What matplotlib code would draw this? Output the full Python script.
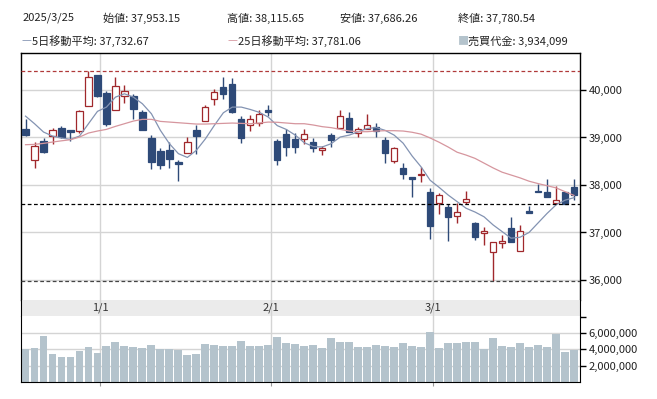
import matplotlib
matplotlib.use("Agg")
import matplotlib.pyplot as plt
import numpy as np

plt.rcParams['font.family'] = ['Noto Sans CJK JP', 'DejaVu Sans']

# trading days shown
dates = ['2024-12-18', '2024-12-19', '2024-12-20', '2024-12-23', '2024-12-24', '2024-12-25',
         '2024-12-26', '2024-12-27', '2024-12-30',
         '2025-01-06', '2025-01-07', '2025-01-08', '2025-01-09', '2025-01-10', '2025-01-14',
         '2025-01-15', '2025-01-16', '2025-01-17', '2025-01-20', '2025-01-21', '2025-01-22',
         '2025-01-23', '2025-01-24', '2025-01-27', '2025-01-28', '2025-01-29', '2025-01-30',
         '2025-01-31',
         '2025-02-03', '2025-02-04', '2025-02-05', '2025-02-06', '2025-02-07', '2025-02-10',
         '2025-02-12', '2025-02-13', '2025-02-14', '2025-02-17', '2025-02-18', '2025-02-19',
         '2025-02-20', '2025-02-21', '2025-02-25', '2025-02-26', '2025-02-27', '2025-02-28',
         '2025-03-03', '2025-03-04', '2025-03-05', '2025-03-06', '2025-03-07', '2025-03-10',
         '2025-03-11', '2025-03-12', '2025-03-13', '2025-03-14', '2025-03-17', '2025-03-18',
         '2025-03-19', '2025-03-21', '2025-03-24', '2025-03-25']

opens = [39185, 38518, 38932, 39031, 39199, 39150, 39129, 39655, 40308,
         39929, 39571, 39880, 39873, 39536, 38998, 38715, 38729, 38476, 38673, 39150,
         39339, 39803, 40062, 40126, 39382, 39255, 39304, 39571,
         38925, 39066, 38960, 38961, 38905, 38729, 39045, 39207, 39403, 39087, 39171,
         39221, 38947, 38505, 38350, 38160, 38217, 37845,
         37613, 37529, 37347, 37634, 37206, 36996, 36582, 36771, 37087, 36610, 37452,
         37873, 37845, 37613, 37845, 37953.15]
highs = [39396, 38904, 38988, 39199, 39248, 39164, 39571, 40398, 40322,
         39971, 40273, 40098, 39908, 39585, 39045, 38778, 38904, 38518, 39016, 39255,
         39690, 40013, 40273, 40252, 39452, 39466, 39585, 39676,
         38974, 39185, 39094, 39172, 38996, 38821, 39101, 39579, 39530, 39228, 39494,
         39298, 39003, 38806, 38470, 38170, 38371, 37929,
         37838, 37599, 37613, 37873, 37227, 37122, 36792, 36947, 37319, 37157, 37557,
         38013, 38126, 37985, 37859, 38115.65]
lows = [39040, 38357, 38680, 38855, 38988, 38932, 39101, 39655, 39859,
        39234, 39571, 39719, 39396, 39160, 38328, 38328, 38357, 38076, 38673, 38659,
        39339, 39676, 39817, 39520, 38883, 39143, 39234, 39452,
        38413, 38602, 38679, 38856, 38701, 38631, 38806, 39207, 39108, 39017, 39171,
        39003, 38470, 38470, 38133, 37753, 38069, 36855,
        37382, 36827, 37192, 37592, 36841, 36736, 35987, 36680, 36792, 36610, 37403,
        37845, 37740, 37613, 37608, 37686.26]
closes = [39059, 38820, 38687, 39150, 39010, 39122, 39550, 40266, 39873,
          39283, 40077, 39971, 39592, 39164, 38483, 38427, 38553, 38448, 38897, 39024,
          39634, 39950, 39908, 39536, 38996, 39396, 39501, 39543,
          38518, 38792, 38806, 39066, 38771, 38785, 38947, 39452, 39122, 39171, 39256,
          39143, 38666, 38771, 38224, 38133, 38238, 37143,
          37789, 37333, 37424, 37698, 36897, 37038, 36792, 36820, 36792, 37038, 37403,
          37845, 37740, 37677, 37608, 37780.54]

ma5 = [39450, 39290, 39115, 39030, 38990, 38960, 39030, 39290, 39550,
       39640, 39850, 39920, 39850, 39710, 39500, 39150, 38870, 38660, 38580, 38730,
       38970, 39255, 39520, 39640, 39640, 39590, 39530, 39430,
       39250, 39170, 39050, 38890, 38810, 38800, 38870, 39010, 39050, 39120, 39190,
       39210, 39150, 39050, 38880, 38610, 38380, 38100,
       37950, 37790, 37650, 37510, 37430, 37330, 37160, 37020, 36880, 36900, 37000,
       37200, 37400, 37580, 37680, 37732.67]
ma25 = [38848, 38855, 38876, 38904, 38930, 38953, 39009, 39094, 39136,
        39171, 39234, 39290, 39346, 39382, 39382, 39339, 39325, 39311, 39297, 39283,
        39283, 39290, 39297, 39304, 39297, 39290, 39304, 39325,
        39320, 39305, 39290, 39290, 39263, 39228, 39207, 39171, 39136, 39122, 39122,
        39136, 39143, 39143, 39136, 39110, 39070, 38990,
        38900, 38800, 38690, 38630, 38560, 38460, 38360, 38270, 38210, 38150, 38080,
        38030, 37985, 37940, 37860, 37781.06]

volume = [4.00, 4.12, 5.59, 3.39, 3.02, 3.02, 3.76, 4.24, 3.51,
          4.37, 4.86, 4.37, 4.24, 4.12, 4.49, 4.00, 4.00, 3.88, 3.27, 3.39,
          4.61, 4.49, 4.37, 4.37, 4.98, 4.37, 4.37, 4.49,
          5.47, 4.73, 4.61, 4.37, 4.49, 4.12, 5.35, 4.86, 4.86, 4.24, 4.24,
          4.49, 4.37, 4.24, 4.73, 4.37, 4.24, 6.08,
          4.12, 4.73, 4.73, 4.86, 4.86, 4.00, 5.35, 4.37, 4.24, 4.73, 4.24,
          4.49, 4.24, 5.84, 3.63, 3.934099]
volume = [v * 1e6 for v in volume]

month_starts = ['2025-01-01', '2025-02-01', '2025-03-01']
month_labels = ['1/1', '2/1', '3/1']

# ---------------------------------------------------------------
W, H = 657, 399
fig = plt.figure(figsize=(W / 100, H / 100), dpi=100)


def rect(x0, y0, x1, y1):
    return [x0 / W, 1 - y1 / H, (x1 - x0) / W, (y1 - y0) / H]


x = np.arange(len(dates))
d_num = np.array(dates, dtype='datetime64[D]').astype(float)
m_num = np.array(month_starts, dtype='datetime64[D]').astype(float)
month_pos = np.interp(m_num, d_num, x)

up_col = '#a0282c'
down_col = '#2e4a78'
grid_col = '#d4d4d4'
txt_col = '#222222'
ma5_col = '#8393b2'
ma25_col = '#d6969e'
xlim = (-0.56, 61.67)

ax = fig.add_axes(rect(20.5, 53, 580, 299.5))
band = fig.add_axes(rect(20.5, 299.5, 580, 315.7))
axv = fig.add_axes(rect(20.5, 315.7, 580, 382))

# price panel
for yv in [36000, 37000, 38000, 39000, 40000]:
    ax.axhline(yv, color=grid_col, lw=1, zorder=0)
for mp in month_pos:
    ax.axvline(mp, color=grid_col, lw=1, zorder=0)

for i in x:
    o, h, l, c = opens[i], highs[i], lows[i], closes[i]
    col = up_col if c >= o else down_col
    ax.vlines(i, l, h, color=col, lw=1, zorder=2)
    body = max(abs(c - o), 15)
    ax.bar(i, body, bottom=min(o, c), width=0.7,
           facecolor='white' if c >= o else down_col,
           edgecolor=col, linewidth=0.9, zorder=3)

ax.plot(x, ma5, color=ma5_col, lw=0.9, zorder=4)
ax.plot(x, ma25, color=ma25_col, lw=0.9, zorder=4)

ax.axhline(max(highs), color='#b03a3a', lw=0.9, ls=(0, (3, 2)), zorder=5)
ax.axhline(min(lows), color='#444444', lw=0.9, ls=(0, (3, 2)), zorder=5)
ax.axhline(closes[-2], color='black', lw=0.9, ls=(0, (3, 2)), zorder=5)

ax.set_xlim(*xlim)
ax.set_ylim(35589, 40779)
ax.yaxis.tick_right()
ax.set_yticks([36000, 37000, 38000, 39000, 40000])
ax.set_yticklabels(['{:,}'.format(v) for v in [36000, 37000, 38000, 39000, 40000]])
ax.tick_params(axis='y', length=4, width=1, labelsize=8, labelcolor=txt_col, pad=2)
ax.set_xticks([])
ax.spines['bottom'].set_visible(False)
for s in ['left', 'right', 'top']:
    ax.spines[s].set_linewidth(1)

# date band
band.set_facecolor('#ebebeb')
for mp, lab in zip(month_pos, month_labels):
    band.axvline(mp, color=grid_col, lw=1, zorder=0)
    band.text(mp, 0.5, lab, ha='center', va='center', fontsize=8, color='#333333')
band.set_xlim(*xlim)
band.set_ylim(0, 1)
band.set_xticks([])
band.set_yticks([])
band.spines['top'].set_visible(False)
band.spines['bottom'].set_visible(False)

# volume panel
for yv in [2e6, 4e6, 6e6]:
    axv.axhline(yv, color=grid_col, lw=1, zorder=0)
for mp in month_pos:
    axv.axvline(mp, color=grid_col, lw=1, zorder=0)
axv.bar(x, volume, width=0.88, color='#b4c3cc', zorder=2)
axv.set_xlim(*xlim)
axv.set_ylim(0, 8.11e6)
axv.yaxis.tick_right()
axv.set_yticks([2e6, 4e6, 6e6, 8e6])
axv.set_yticklabels(['2,000,000', '4,000,000', '6,000,000', ''])
axv.tick_params(axis='y', length=4, width=1, labelsize=8, labelcolor=txt_col, pad=2)
axv.set_xticks(month_pos)
axv.set_xticklabels([])
axv.tick_params(axis='x', length=3, color='#999999')
axv.spines['top'].set_visible(False)

# header
def htext(px, py, s, color=txt_col):
    fig.text(px / W, 1 - py / H, s, fontsize=8, color=color, va='center', ha='left')

htext(23, 18, '2025/3/25')
htext(103, 18, '始値: {:,.2f}'.format(opens[-1]))
htext(227, 18, '高値: {:,.2f}'.format(highs[-1]))
htext(340, 18, '安値: {:,.2f}'.format(lows[-1]))
htext(458, 18, '終値: {:,.2f}'.format(closes[-1]))

htext(21, 41, '—', color=ma5_col)
htext(32, 41, '5日移動平均: {:,.2f}'.format(ma5[-1]))
htext(227, 41, '—', color=ma25_col)
htext(238, 41, '25日移動平均: {:,.2f}'.format(ma25[-1]))
htext(458, 41, '■', color='#b4c3cc')
htext(468, 41, '売買代金: {:,.0f}'.format(volume[-1]))

fig.savefig('out.png', dpi=100)
